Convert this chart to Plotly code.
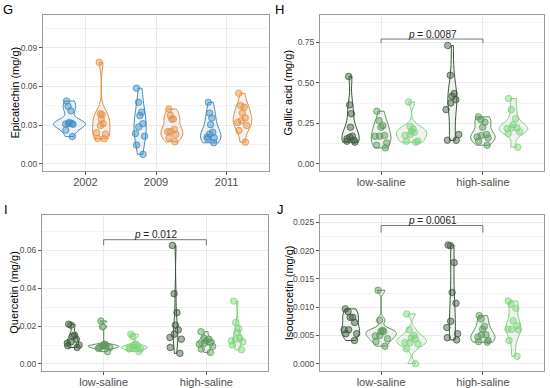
import numpy as np
import plotly.graph_objects as go

FONT = "Liberation Sans, Arial, sans-serif"

# ---------------- data ----------------
years = ["2002", "2009", "2011"]
salinity = ["low-saline", "high-saline"]

# Panel G: Epicatechin (mg/g), two series per year
epi_blue = [
    [0.0486, 0.0445, 0.041, 0.0312, 0.031, 0.0308, 0.032, 0.026, 0.021, 0.0305],
    [0.0586, 0.0476, 0.040, 0.0373, 0.031, 0.0285, 0.0234, 0.0213, 0.0144, 0.0072],
    [0.0476, 0.0393, 0.0355, 0.0303, 0.0244, 0.0231, 0.0206, 0.020, 0.0193, 0.0162],
]
epi_orange = [
    [0.0787, 0.0388, 0.038, 0.0347, 0.031, 0.0296, 0.024, 0.023, 0.0195, 0.0193],
    [0.0424, 0.0375, 0.0347, 0.0345, 0.0265, 0.025, 0.0248, 0.0226, 0.020, 0.017],
    [0.0547, 0.045, 0.0437, 0.0393, 0.0355, 0.0334, 0.032, 0.0296, 0.0257, 0.0167],
]

# Panel H: Gallic acid (mg/g), three series per salinity level
gallic_dark = [
    [0.54, 0.364, 0.31, 0.226, 0.171, 0.164, 0.155, 0.146, 0.14, 0.134],
    [0.731, 0.547, 0.434, 0.417, 0.397, 0.376, 0.335, 0.181, 0.146, 0.145],
]
gallic_mid = [
    [0.325, 0.267, 0.236, 0.226, 0.175, 0.171, 0.17, 0.129, 0.115, 0.099],
    [0.29, 0.273, 0.257, 0.226, 0.181, 0.175, 0.166, 0.16, 0.14, 0.115],
]
gallic_light = [
    [0.382, 0.232, 0.216, 0.2, 0.195, 0.181, 0.175, 0.14, 0.14, 0.134],
    [0.403, 0.335, 0.279, 0.242, 0.222, 0.222, 0.218, 0.197, 0.187, 0.103],
]

# Panel I: Quercetin (mg/g)
quer_dark = [
    [0.021, 0.0205, 0.0152, 0.0145, 0.0131, 0.0117, 0.011, 0.010, 0.0096, 0.0087],
    [0.0626, 0.0371, 0.0271, 0.0205, 0.018, 0.0157, 0.014, 0.0131, 0.0087, 0.0056],
]
quer_mid = [
    [0.0227, 0.0196, 0.0105, 0.0096, 0.0096, 0.0096, 0.0087, 0.0087, 0.0082, 0.0065],
    [0.017, 0.0136, 0.0131, 0.0122, 0.0115, 0.011, 0.0105, 0.0093, 0.0079, 0.0061],
]
quer_light = [
    [0.0157, 0.0145, 0.0105, 0.0096, 0.009, 0.0087, 0.0087, 0.0079, 0.0079, 0.0066],
    [0.0332, 0.0219, 0.0187, 0.0166, 0.0136, 0.0131, 0.0122, 0.0117, 0.010, 0.0075],
]

# Panel J: Isoquercetin (mg/g)
isoq_dark = [
    [0.0097, 0.0092, 0.0082, 0.0082, 0.0073, 0.006, 0.006, 0.0053, 0.0053, 0.0041],
    [0.021, 0.0209, 0.0179, 0.0126, 0.0107, 0.0075, 0.0064, 0.0053, 0.0046, 0.0042],
]
isoq_mid = [
    [0.013, 0.0077, 0.0059, 0.0057, 0.0057, 0.005, 0.0049, 0.0044, 0.0039, 0.0031],
    [0.0085, 0.0079, 0.0066, 0.0061, 0.0051, 0.0051, 0.0047, 0.0041, 0.0039, 0.0038],
]
isoq_light = [
    [0.0088, 0.006, 0.005, 0.0046, 0.0044, 0.0037, 0.0037, 0.0035, 0.0026, 0.0],
    [0.0111, 0.0105, 0.0098, 0.0076, 0.0067, 0.0061, 0.0061, 0.006, 0.0041, 0.0013],
]

# tick labels
g_yticks = [0, 0.03, 0.06, 0.09]
g_yticktext = ["0.00", "0.03", "0.06", "0.09"]
h_yticks = [0, 0.25, 0.5, 0.75]
h_yticktext = ["0.00", "0.25", "0.50", "0.75"]
i_yticks = [0, 0.02, 0.04, 0.06]
i_yticktext = ["0.00", "0.02", "0.04", "0.06"]
j_yticks = [0, 0.005, 0.01, 0.015, 0.02, 0.025]
j_yticktext = ["0.000", "0.005", "0.010", "0.015", "0.020", "0.025"]

# significance labels
p_labels = {"H": "0.0087", "I": "0.012", "J": "0.0061"}

# ---------------- styles ----------------
BLUE = (58, 140, 198)
ORANGE = (232, 141, 58)
DARK = (58, 86, 58)
MID = (88, 150, 88)
LIGHT = (122, 212, 122)


def rgba(c, a):
    return "rgba(%d,%d,%d,%s)" % (c[0], c[1], c[2], a)


def nrd0(v):
    v = np.asarray(v, float)
    sd = v.std(ddof=1)
    q75, q25 = np.percentile(v, [75, 25])
    lo = min(sd, (q75 - q25) / 1.34)
    if lo <= 0:
        lo = sd if sd > 0 else 1.0
    return 0.9 * lo * len(v) ** -0.2


def max_density(v, bw):
    v = np.asarray(v, float)
    grid = np.linspace(v.min(), v.max(), 512)
    d = np.exp(-0.5 * ((grid[:, None] - v[None, :]) / bw) ** 2).sum(1)
    d /= len(v) * bw * np.sqrt(2 * np.pi)
    return d.max()


# panel layout in pixels (left, right, top, bottom)
W, H = 550, 388
panels = [
    dict(key="", letter="G", title="Epicatechin (mg/g)", cats=years,
         series=[(epi_blue, BLUE), (epi_orange, ORANGE)],
         box=(43, 269, 15, 172), yrange=[-0.0058, 0.1155],
         yt=g_yticks, ytt=g_yticktext, minor=[0.015, 0.045, 0.075, 0.105],
         letter_xy=(8, 9.5), title_x=15.5, bracket=None),
    dict(key="2", letter="H", title="Gallic acid (mg/g)", cats=salinity,
         series=[(gallic_dark, DARK), (gallic_mid, MID), (gallic_light, LIGHT)],
         box=(320, 544, 15, 172), yrange=[-0.045, 0.92],
         yt=h_yticks, ytt=h_yticktext, minor=[0.125, 0.375, 0.625, 0.875],
         letter_xy=(280, 9.5), title_x=288.5, bracket=(0.771, 0.745, p_labels["H"])),
    dict(key="3", letter="I", title="Quercetin (mg/g)", cats=salinity,
         series=[(quer_dark, DARK), (quer_mid, MID), (quer_light, LIGHT)],
         box=(42, 268, 216, 372.5), yrange=[-0.0035, 0.0787],
         yt=i_yticks, ytt=i_yticktext, minor=[0.01, 0.03, 0.05, 0.07],
         letter_xy=(6, 211), title_x=14, bracket=(0.0656, 0.0626, p_labels["I"])),
    dict(key="4", letter="J", title="Isoquercetin (mg/g)", cats=salinity,
         series=[(isoq_dark, DARK), (isoq_mid, MID), (isoq_light, LIGHT)],
         box=(320, 544, 216, 372.5), yrange=[-0.00123, 0.02635],
         yt=j_yticks, ytt=j_yticktext,
         minor=[0.0025, 0.0075, 0.0125, 0.0175, 0.0225],
         letter_xy=(280.5, 211), title_x=288.5, bracket=(0.02447, 0.0232, p_labels["J"])),
]

fig = go.Figure()
layout = dict(
    width=W, height=H, margin=dict(l=0, r=0, t=0, b=0),
    paper_bgcolor="white", plot_bgcolor="white", showlegend=False,
    font=dict(family=FONT), hovermode=False,
)
annotations = []
shapes = []

for p in panels:
    k = p["key"]
    xa, ya = "x" + k, "y" + k
    n = len(p["series"])
    dodge = 0.9 / n
    offsets = (np.arange(n) - (n - 1) / 2) * dodge
    # area-scaled violin widths (like ggplot scale="area")
    info = []
    for si, (lists, col) in enumerate(p["series"]):
        for ci, vals in enumerate(lists):
            bw = nrd0(vals)
            info.append((si, ci, vals, col, bw, max_density(vals, bw)))
    gmax = max(i[5] for i in info)
    for si, ci, vals, col, bw, dm in info:
        pos = ci + 1 + offsets[si]
        fig.add_trace(go.Violin(
            x=[pos] * len(vals), y=vals, xaxis=xa, yaxis=ya,
            width=dodge * dm / gmax, bandwidth=bw, spanmode="hard",
            scalemode="width", points=False,
            line=dict(color=rgba(col, 1), width=1),
            fillcolor="rgba(215,215,215,0.35)", hoverinfo="skip",
        ))
    for si, ci, vals, col, bw, dm in info:
        pos = ci + 1 + offsets[si]
        fig.add_trace(go.Box(
            x=[pos] * len(vals), y=vals, xaxis=xa, yaxis=ya,
            width=0.18, boxpoints="all", jitter=0.9, pointpos=0,
            line=dict(width=0, color="rgba(0,0,0,0)"),
            fillcolor="rgba(0,0,0,0)", whiskerwidth=0,
            marker=dict(size=6.5, color=rgba(col, 0.45),
                        line=dict(color=rgba(col, 0.85), width=0.9)),
            hoverinfo="skip",
        ))

    l, r, t, b = p["box"]
    ncat = len(p["cats"])
    layout["xaxis" + k] = dict(
        domain=[l / W, r / W], anchor=ya, range=[0.4, ncat + 0.6],
        tickvals=list(range(1, ncat + 1)), ticktext=p["cats"],
        showgrid=True, gridcolor="#ebebeb", gridwidth=1, zeroline=False,
        showline=True, linecolor="#9a9a9a", linewidth=1, mirror=True,
        ticks="outside", ticklen=3, tickcolor="#555", tickwidth=1,
        ticklabelstandoff=-2,
        tickfont=dict(size=11, color="#4d4d4d", family=FONT),
    )
    layout["yaxis" + k] = dict(
        domain=[1 - b / H, 1 - t / H], anchor=xa, range=p["yrange"],
        tickvals=p["yt"], ticktext=p["ytt"],
        showgrid=True, gridcolor="#ebebeb", gridwidth=1, zeroline=False,
        showline=True, linecolor="#9a9a9a", linewidth=1, mirror=True,
        ticks="outside", ticklen=3, tickcolor="#555", tickwidth=1,
        tickfont=dict(size=8.5, color="#4d4d4d", family=FONT),
        minor=dict(tickvals=p["minor"], showgrid=True, gridcolor="#f3f3f3",
                   gridwidth=1, ticks=""),
    )
    # axis title
    annotations.append(dict(
        text=p["title"], x=p["title_x"] / W, y=1 - (t + b) / 2 / H,
        xref="paper", yref="paper", xanchor="center", yanchor="middle",
        textangle=-90, showarrow=False,
        font=dict(size=11, color="black", family=FONT),
    ))
    # panel letter
    lx, ly = p["letter_xy"]
    annotations.append(dict(
        text=p["letter"], x=lx / W, y=1 - ly / H, xref="paper", yref="paper",
        xanchor="center", yanchor="middle", showarrow=False,
        font=dict(size=13, color="black", family=FONT),
    ))
    # significance bracket
    if p["bracket"]:
        ytop, ybot, lab = p["bracket"]
        shapes.append(dict(
            type="path", xref=xa, yref=ya,
            path="M 1 %g L 1 %g L 2 %g L 2 %g" % (ybot, ytop, ytop, ybot),
            line=dict(color="#777", width=1),
        ))
        annotations.append(dict(
            text="<i>p</i> = " + lab, x=1.5, y=ytop, xref=xa, yref=ya,
            xanchor="center", yanchor="middle", yshift=5, showarrow=False,
            font=dict(size=10, color="#222", family=FONT),
        ))

layout["annotations"] = annotations
layout["shapes"] = shapes
fig.update_layout(**layout)
fig.write_html(
    "out.html",
    config={"displayModeBar": False},
    post_script="document.body.style.margin='0';document.body.style.overflow='hidden';",
)
